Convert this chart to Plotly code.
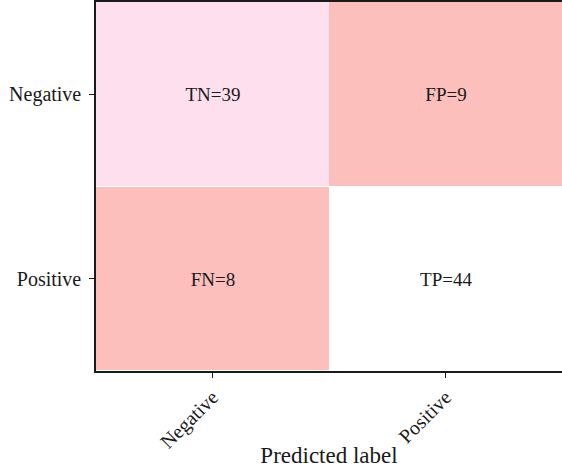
import plotly.graph_objects as go

classes = ["Negative", "Positive"]
counts = [[39, 9], [8, 44]]
cell_labels = [["TN=39", "FP=9"], ["FN=8", "TP=44"]]

serif = "Liberation Serif"

fig = go.Figure(go.Heatmap(
    z=counts,
    x=classes,
    y=classes,
    text=cell_labels,
    texttemplate="%{text}",
    textfont=dict(family=serif, size=19, color="#1a1a1a"),
    colorscale=[[0, "#fdbfbc"], [0.03, "#fdbfbc"], [0.86, "#fddfee"], [1, "#ffffff"]],
    zmin=8, zmax=44,
    showscale=False,
    xgap=0, ygap=1,
    hoverinfo="skip",
))

fig.update_layout(
    width=562, height=468,
    margin=dict(l=96, r=0, t=2, b=97),
    plot_bgcolor="white",
    paper_bgcolor="white",
    font=dict(family=serif, size=19, color="#1a1a1a"),
)
# x axis mirrored so the frame gets a top edge; right edge sits off the window in the original
fig.update_xaxes(
    title=dict(text="Predicted label", standoff=0),
    tickangle=-45,
    tickfont=dict(size=20),
    automargin=False,
    showline=True, linecolor="#1a1a1a", linewidth=1.5, mirror=True,
    ticks="outside", ticklen=5, tickcolor="#1a1a1a",
)
fig.update_yaxes(
    autorange="reversed",
    tickfont=dict(size=20),
    ticklabelstandoff=4,
    showline=True, linecolor="#1a1a1a", linewidth=1.5, mirror=False,
    ticks="outside", ticklen=5, tickcolor="#1a1a1a",
)

# drop the page's default body margin so the figure sits at the window's corner
fix_page = (
    "document.body.style.margin='0';"
    "Plotly.relayout(document.getElementById('{plot_id}'), {width: 562, height: 468});"
)
fig.write_html("out.html", post_script=fix_page, config={"displayModeBar": False})
